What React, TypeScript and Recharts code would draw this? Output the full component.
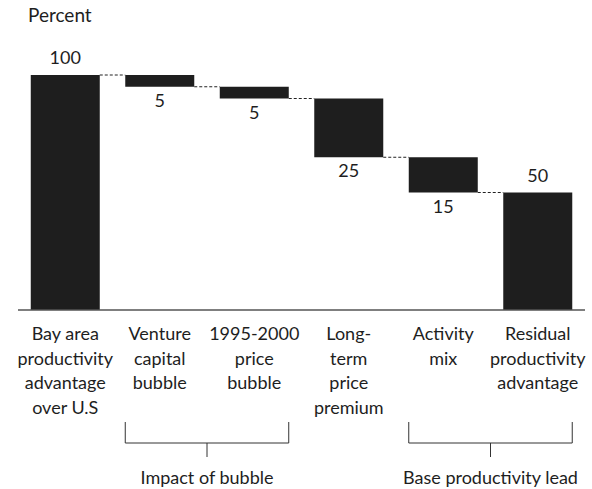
import React from "react";
import { BarChart, Bar, XAxis, YAxis, LabelList } from "recharts";

const categories = [
  "Bay area productivity advantage over U.S",
  "Venture capital bubble",
  "1995-2000 price bubble",
  "Long-term price premium",
  "Activity mix",
  "Residual productivity advantage",
];
const tickLines = [
  ["Bay area", "productivity", "advantage", "over U.S"],
  ["Venture", "capital", "bubble"],
  ["1995-2000", "price", "bubble"],
  ["Long-", "term", "price", "premium"],
  ["Activity", "mix"],
  ["Residual", "productivity", "advantage"],
];
const changes = [100, -5, -5, -25, -15, 50];
const isTotal = [true, false, false, false, false, true];
const groups = [
  { label: "Impact of bubble", from: 1, to: 2 },
  { label: "Base productivity lead", from: 4, to: 5 },
];

const FONT = "Lato, 'Open Sans', sans-serif";
const INK = "#1e1e1e";
const GAP_PCT = 0.135;

let running = 0;
const data = categories.map((name, i) => {
  const start = isTotal[i] ? 0 : running;
  const end = isTotal[i] ? changes[i] : running + changes[i];
  running = end;
  return {
    name,
    range: [Math.min(start, end), Math.max(start, end)],
    amount: Math.abs(changes[i]),
    up: changes[i] > 0,
  };
});

// bar + dotted connector to the next bar
const WaterfallBar = (props: any) => {
  const { x, y, width, height, index } = props;
  const band = width / (1 - 2 * GAP_PCT);
  const gap = band - width;
  const level = data[index].up ? y : y + height;
  return (
    <g>
      <rect x={x} y={y} width={width} height={height} fill={INK} />
      {index < data.length - 1 && (
        <line
          x1={x + width}
          x2={x + width + gap}
          y1={level}
          y2={level}
          stroke="#222"
          strokeDasharray="3 2"
        />
      )}
    </g>
  );
};

const ValueLabel = (props: any) => {
  const { x, y, width, height, index } = props;
  const d = data[index];
  const ty = d.up ? y - 11 : y + height + 20;
  return (
    <text x={x + width / 2} y={ty} textAnchor="middle" fontSize={18} fontFamily={FONT} fill={INK}>
      {d.amount}
    </text>
  );
};

const CategoryTick = (props: any) => {
  const { x, y, payload } = props;
  const idx = payload.index;
  const band = payload.offset * 2;
  const barW = band * (1 - 2 * GAP_PCT);
  const group = groups.find((g) => g.from === idx);
  return (
    <g>
      {tickLines[idx].map((line, k) => (
        <text key={k} x={x} y={y + 30 + k * 24.5} textAnchor="middle" fontSize={18} fontFamily={FONT} fill={INK}>
          {line}
        </text>
      ))}
      {group && (() => {
        const left = x - barW / 2;
        const right = x + (group.to - group.from) * band + barW / 2;
        const mid = (left + right) / 2;
        const top = y + 112;
        const bot = y + 133;
        return (
          <g>
            <path
              d={`M${left},${top}V${bot}H${right}V${top}M${mid},${bot}V${bot + 14}`}
              fill="none"
              stroke="#333"
              strokeWidth={1}
            />
            <text x={mid} y={y + 174} textAnchor="middle" fontSize={18} fontFamily={FONT} fill={INK}>
              {group.label}
            </text>
          </g>
        );
      })()}
    </g>
  );
};

export default function App() {
  return (
    <div style={{ position: "relative", width: 592, height: 489 }}>
      <style>{`body{margin:0}`}</style>
      <div
        style={{
          position: "absolute",
          left: 28,
          top: 3,
          fontFamily: FONT,
          fontSize: 19,
          color: INK,
        }}
      >
        Percent
      </div>
      <BarChart
        width={592}
        height={489}
        data={data}
        margin={{ top: 75, right: 7, bottom: 0, left: 18 }}
        barCategoryGap={`${GAP_PCT * 100}%`}
      >
        <XAxis
          dataKey="name"
          height={179}
          tickLine={false}
          tickSize={0}
          tickMargin={0}
          interval={0}
          axisLine={{ stroke: "#555", strokeWidth: 1.5 }}
          tick={<CategoryTick />}
        />
        <YAxis hide domain={[0, 100]} />
        <Bar dataKey="range" shape={<WaterfallBar />} isAnimationActive={false}>
          <LabelList dataKey="amount" content={<ValueLabel />} />
        </Bar>
      </BarChart>
    </div>
  );
}
